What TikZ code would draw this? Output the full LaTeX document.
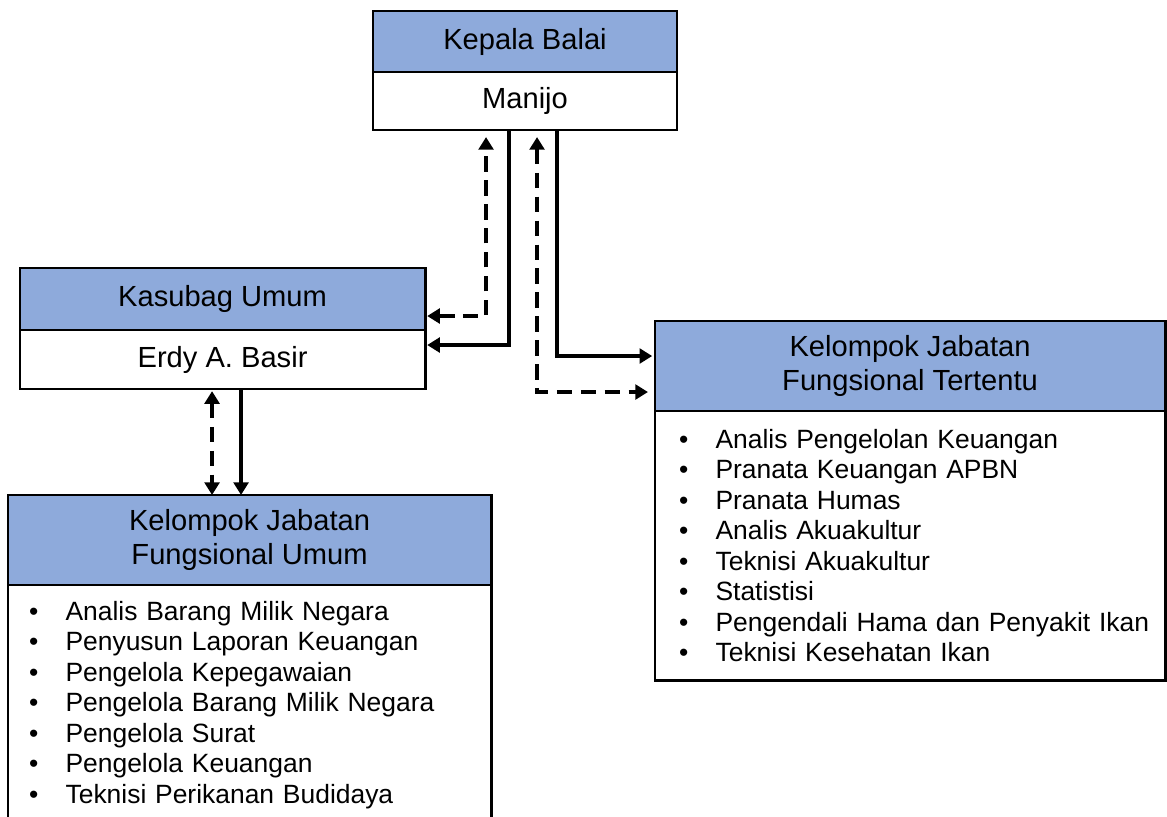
\documentclass[tikz,border=0pt]{standalone}
\usepackage{fontspec}
\setmainfont{Liberation Sans}
\usetikzlibrary{positioning,calc,arrows.meta}

\definecolor{headblue}{RGB}{142,170,219}
\newcommand{\itm}[1]{\makebox[26pt][l]{\textbullet}\mbox{#1}}

\tikzset{
  head/.style={draw, line width=2pt, fill=headblue, anchor=north west,
    inner sep=0pt, outer sep=0pt, align=center,
    font=\fontsize{20.7}{24}\selectfont},
  namebox/.style={draw, line width=2pt, fill=white, inner sep=0pt,
    outer sep=0pt, font=\fontsize{20.7}{24}\selectfont},
  listbox/.style={draw, line width=2pt, fill=white, outer sep=0pt,
    inner ysep=0pt, align=left, font=\fontsize{18.8}{21.7}\selectfont},
  link/.style={line width=2.4pt, -{Triangle[length=9pt,width=10.5pt]}},
  dlink/.style={line width=2.4pt, dash pattern=on 11pt off 6pt,
    {Triangle[length=9pt,width=10.5pt]}-{Triangle[length=9pt,width=10.5pt]}}
}

\begin{document}
\begin{tikzpicture}[x=0.025cm, y=-0.025cm]
        \useasboundingbox (0,0) rectangle (1167,817);
        \clip (0,0) rectangle (1167,817);

        % kepala balai
        \node [head, minimum width=7.6cm, minimum height=1.525cm] (kepala)
        at (373,11) {Kepala Balai};
        \node [namebox, below=0pt of kepala, minimum width=7.6cm,
        minimum height=1.45cm] (manijo) {Manijo};

        % kasubag umum
        \node [head, minimum width=10.125cm, minimum height=1.55cm] (kasubag)
        at (20,268) {Kasubag Umum};
        \node [namebox, below=0pt of kasubag, minimum width=10.125cm,
        minimum height=1.475cm] (erdy) {Erdy A. Basir};

        % fungsional tertentu
        \node [head, minimum width=12.75cm, minimum height=2.25cm] (kjft)
        at (655,321) {Kelompok Jabatan\\Fungsional Tertentu};
        \node [listbox, below=0pt of kjft, minimum width=12.75cm,
        minimum height=6.725cm, inner xsep=0.6cm, text width=11.55cm]
        (kjftlist) {\itm{Analis Pengelolan Keuangan}\\
        \itm{Pranata Keuangan APBN}\\\itm{Pranata Humas}\\
        \itm{Analis Akuakultur}\\\itm{Teknisi Akuakultur}\\
        \itm{Statistisi}\\\itm{Pengendali Hama dan Penyakit Ikan}\\
        \itm{Teknisi Kesehatan Ikan}};

        % fungsional umum
        \node [head, minimum width=12.075cm, minimum height=2.25cm] (kjfu)
        at (8,495) {Kelompok Jabatan\\Fungsional Umum};
        \node [listbox, below=0pt of kjfu, minimum width=12.075cm,
        minimum height=6cm, inner xsep=0.525cm, text width=11.025cm]
        (kjfulist) {\itm{Analis Barang Milik Negara}\\
        \itm{Penyusun Laporan Keuangan}\\\itm{Pengelola Kepegawaian}\\
        \itm{Pengelola Barang Milik Negara}\\\itm{Pengelola Surat}\\
        \itm{Pengelola Keuangan}\\\itm{Teknisi Perikanan Budidaya}};

        % connectors
        \draw [dlink, shorten <=1.5pt, shorten >=5pt]
        ($(kasubag.south east)+(0,-14)$) -| ($(manijo.south)+(-39,0)$);
        \draw [link, shorten >=1.5pt]
        ($(manijo.south)+(-16,0)$) |- ($(erdy.east)+(0,-14.5)$);
        \draw [dlink, shorten <=5pt, shorten >=5pt]
        ($(manijo.south)+(12,0)$) |- ($(kjft.south west)+(0,-19)$);
        \draw [link, shorten >=2pt]
        ($(manijo.south)+(32,0)$) |- ($(kjft.west)+(0,-10)$);
        \draw [dlink, shorten <=1.5pt]
        ($(erdy.south)+(-10.5,0)$) coordinate (d) -- (d |- kjfu.north);
        \draw [link]
        ($(erdy.south)+(18.5,0)$) coordinate (s) -- (s |- kjfu.north);
\end{tikzpicture}
\end{document}
